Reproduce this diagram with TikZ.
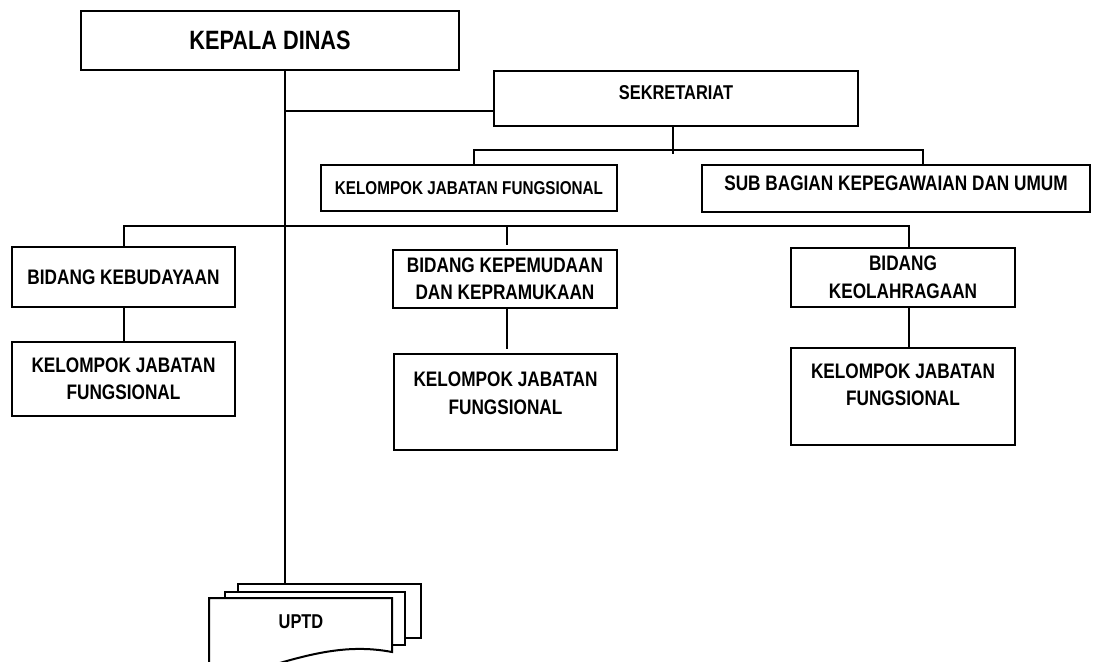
\documentclass[tikz,border=0pt]{standalone}
\usepackage{fontspec}
\setmainfont{Liberation Sans}[FakeStretch=0.82]

% text block moved up inside its box
\newcommand\lift[2]{\raisebox{#1}[\height][\depth]{\begin{tabular}{@{}c@{}}#2\end{tabular}}}

\begin{document}
\begin{tikzpicture}[x=1pt,y=-1pt,line width=2pt,
  box/.style={draw,line width=2pt,fill=white,inner sep=0pt,align=center,
    font=\fontsize{21}{27.5}\selectfont\bfseries},
  sheet/.style={draw,line width=2pt,fill=white}]
    \useasboundingbox (0,0) rectangle (1099,661);
    \clip (0,0) rectangle (1099,661);

    \node[box,minimum width=378pt,minimum height=59pt,
      font=\fontsize{26.5}{30}\selectfont\bfseries](kd) at (270,40.5){KEPALA DINAS};
    \node[box,minimum width=364pt,minimum height=55pt,
      font=\fontsize{20}{24}\selectfont\bfseries](sek) at (676,98.5){\lift{3.5pt}{SEKRETARIAT}};
    \node[box,minimum width=296pt,minimum height=46pt,
      font=\fontsize{18.6}{22}\selectfont\bfseries](kjfs) at (469,188){KELOMPOK JABATAN FUNGSIONAL};
    \node[box,minimum width=388pt,minimum height=47pt](sub) at (896,188.5){\lift{4pt}{SUB BAGIAN KEPEGAWAIAN DAN UMUM}};

    \node[box,minimum width=223pt,minimum height=60pt](bk) at (123.5,277){BIDANG KEBUDAYAAN};
    \node[box,minimum width=223pt,minimum height=74pt](kjf1) at (123.5,379){KELOMPOK JABATAN\\FUNGSIONAL};
    \node[box,minimum width=224pt,minimum height=58pt](bkk) at (505,279){BIDANG KEPEMUDAAN\\DAN KEPRAMUKAAN};
    \node[box,minimum width=223pt,minimum height=96pt](kjf2) at (505.5,402){\lift{7pt}{KELOMPOK JABATAN\\FUNGSIONAL}};
    \node[box,minimum width=224pt,minimum height=59pt](bo) at (903,277.5){BIDANG\\KEOLAHRAGAAN};
    \node[box,minimum width=224pt,minimum height=97pt](kjf3) at (903,396.5){\lift{10pt}{KELOMPOK JABATAN\\FUNGSIONAL}};

    % UPTD, stacked sheets
    \coordinate (uptdtop) at (284.5,584);
    \draw[sheet] (238,584) rectangle (421,638);
    \draw[sheet] (225,592) rectangle (405,645);
    \draw[sheet] (209,598) -- (392,598) -- (392,652)
      .. controls (345,643) and (305,655) .. (250,672) -- (209,680) -- cycle;
    \node[font=\fontsize{20}{24}\selectfont\bfseries](uptd) at (301,622){UPTD};

    \coordinate (sekbar) at (673,154);
    \coordinate (mainbar) at (0,226);
    \draw (uptdtop |- kd.south) -- (uptdtop);
    \draw (uptdtop |- 0,111) -- (sek.west |- 0,111);
    \draw (sekbar |- sek.south) -- (sekbar);
    \draw (474,188 |- kjfs.north) -- (474,150) -- (923,150) -- (923,188 |- sub.north);
    \draw (bk.north) -- (bk.north |- mainbar) -- (909,226) -- (909,226 |- bo.north);
    \draw[shorten >=4pt] (507,226) -- (507,226 |- bkk.north);
    \draw (bk) -- (kjf1);
    \draw[shorten >=4pt] (507,0 |- bkk.south) -- (507,0 |- kjf2.north);
    \draw (909,0 |- bo.south) -- (909,0 |- kjf3.north);
\end{tikzpicture}
\end{document}
